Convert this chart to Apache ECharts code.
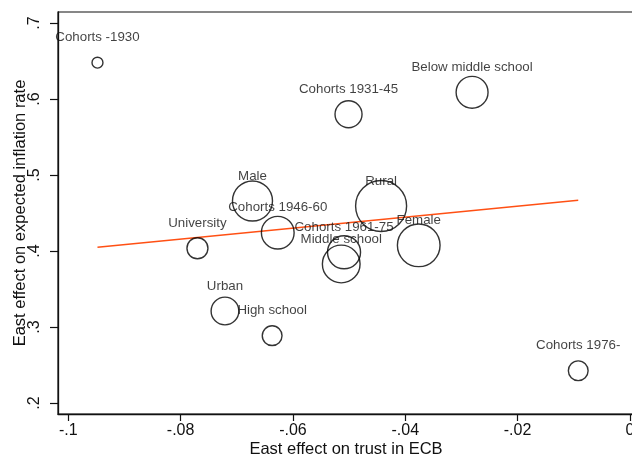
<!DOCTYPE html>
<html>
<head>
<meta charset="utf-8">
<script src="https://cdn.jsdelivr.net/npm/echarts@6/dist/echarts.min.js"></script>
<style>
html,body{margin:0;padding:0;background:#fff;}
#chart{width:632px;height:455px;}
</style>
</head>
<body>
<div id="chart"></div>
<script>
// ---- data ----
const groupLabels = ["Cohorts -1930","Cohorts 1931-45","Below middle school","Male","Cohorts 1946-60","Rural","Female","Cohorts 1961-75","Middle school","University","Urban","High school","Cohorts 1976-"];
const trustEffect = [-0.0948,-0.0501,-0.0281,-0.0672,-0.0627,-0.0443,-0.0376,-0.0509,-0.0514,-0.0770,-0.0721,-0.0637,-0.0092];
const inflEffect  = [0.6478,0.5799,0.6088,0.4658,0.4241,0.4592,0.4075,0.3983,0.3829,0.4036,0.3211,0.2886,0.2425];
const groupWeight = [12,73,102,160,107,260,182,109,142,44,77,39,39];
const fitX = [-0.0948,-0.0092];
const fitY = [0.4049,0.4667];
const xTicks = [-0.1,-0.08,-0.06,-0.04,-0.02,0];
const yTicks = [0.2,0.3,0.4,0.5,0.6,0.7];

const FONT = '"Liberation Sans", Arial, sans-serif';
const fmt = v => {
  const s = String(Number(v.toFixed(4)));
  return s.replace(/^(-?)0\./, '$1.');
};

const chart = echarts.init(document.getElementById('chart'), null, {renderer:'canvas'});
chart.setOption({
  animation:false,
  backgroundColor:'#fff',
  grid:{left:58,right:-2,top:12,bottom:41,outerBoundsMode:'none',containLabel:false,show:true,borderColor:'#111',borderWidth:1.2,backgroundColor:'transparent'},
  xAxis:{
    type:'value', min:-0.10183, max:0.00073,
    name:'East effect on trust in ECB', nameLocation:'middle', nameGap:27, nameMoveOverlap:false,
    nameTextStyle:{fontFamily:FONT,fontSize:16.5,color:'#111'},
    axisLine:{show:true,onZero:false,lineStyle:{color:'#111',width:1.3}},
    axisTick:{show:true,length:7,customValues:xTicks,lineStyle:{color:'#111',width:1.2}},
    axisLabel:{customValues:xTicks,formatter:fmt,fontFamily:FONT,fontSize:16,color:'#111',margin:9,showMinLabel:true,showMaxLabel:true},
    splitLine:{show:false}
  },
  yAxis:{
    type:'value', min:0.18553, max:0.71447,
    name:'East effect on expected inflation rate', nameLocation:'middle', nameGap:29, nameRotate:90, nameMoveOverlap:false,
    nameTextStyle:{fontFamily:FONT,fontSize:16.5,color:'#111'},
    axisLine:{show:true,onZero:false,lineStyle:{color:'#111',width:1.3}},
    axisTick:{show:true,length:8,customValues:yTicks,lineStyle:{color:'#111',width:1.2}},
    axisLabel:{customValues:yTicks,formatter:fmt,rotate:90,fontFamily:FONT,fontSize:16,color:'#111',margin:15,showMinLabel:true,showMaxLabel:true},
    splitLine:{show:false}
  },
  series:[
    {
      type:'line',
      data:fitX.map((x,i)=>[x,fitY[i]]),
      symbol:'none',
      lineStyle:{color:'#ff5014',width:1.5},
      z:1,
      silent:true
    },
    {
      type:'scatter',
      data:trustEffect.map((x,i)=>({value:[x,inflEffect[i]],name:groupLabels[i]})),
      symbol:'circle',
      symbolSize:(val,params)=>Math.sqrt(groupWeight[params.dataIndex]*10),
      itemStyle:{color:'rgba(0,0,0,0)',borderColor:'#000',borderWidth:1.4},
      label:{show:true,position:'inside',formatter:p=>p.name,fontFamily:FONT,fontSize:13.3,color:'#111'},
      labelLayout:{dy:-25,hideOverlap:false},
      z:2
    }
  ]
});
</script>
</body>
</html>
